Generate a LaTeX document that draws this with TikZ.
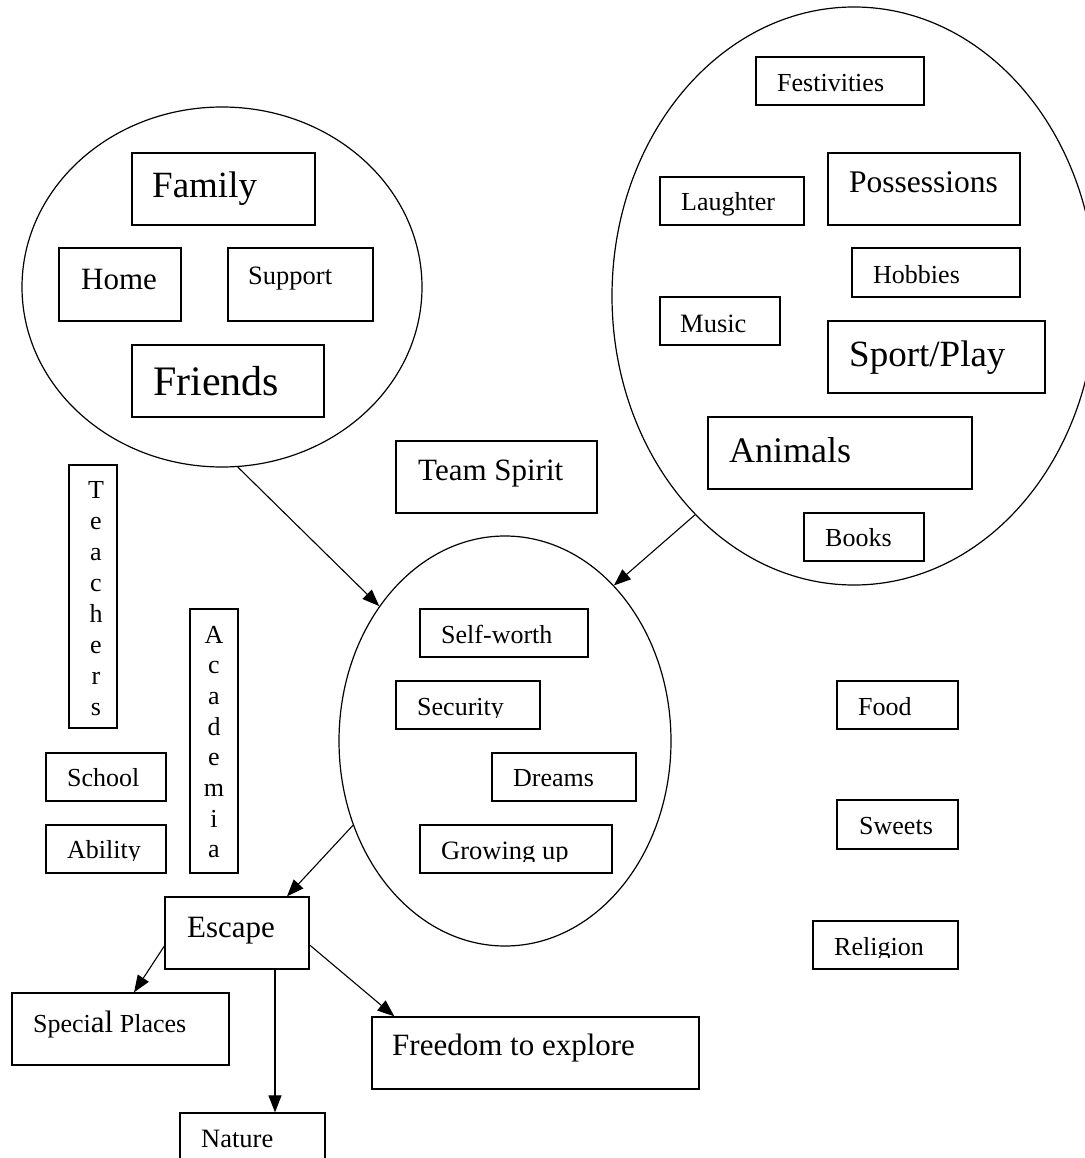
\documentclass[tikz,border=0pt]{standalone}
\usepackage{fontspec}
\setmainfont{Liberation Serif}
\usetikzlibrary{shapes.geometric,arrows.meta,calc}
\newcommand\fs[1]{\fontsize{#1}{#1}\selectfont}
\newcommand\mybox[5]{\node[box, minimum width={#4-#2}, minimum height={#5-#3}] (#1) at ({(#2+#4)/2},{(#3+#5)/2}) {};}
\tikzset{
  box/.style={draw, line width=1.3pt, rectangle, inner sep=0pt},
  oval/.style={draw, line width=1.2pt, ellipse, inner sep=0pt},
  lbl/.style={anchor=base west, inner sep=0pt},
  vl/.style={anchor=base, inner sep=0pt, font=\fs{26}},
  arr/.style={line width=1.1pt, -{Triangle[length=17pt,width=13pt]}},
}
\begin{document}
\begin{tikzpicture}[x=1pt,y=-1pt]
\useasboundingbox[fill=white] (0,0) rectangle (1084,1158);

% ellipses
\node[oval, minimum width=400, minimum height=360] (famell) at (222,287) {};
\node[oval, minimum width=484, minimum height=578] (funell) at (854,296) {};
\node[oval, minimum width=332, minimum height=410] (midell) at (505,741) {};

% family cluster
\mybox{family}{132}{153}{315}{225}
\node[lbl, font=\fs{37}] (family-t) at (152,198) {Family};
\mybox{home}{59}{248}{181}{321}
\node[lbl, font=\fs{31}] (home-t) at (81,289) {Home};
\mybox{support}{228}{248}{373}{321}
\node[lbl, font=\fs{26.5}] (support-t) at (248,284) {Support};
\mybox{friends}{132}{345}{324}{417}
\node[lbl, font=\fs{42}] (friends-t) at (153,395) {Friends};

% fun cluster
\mybox{fest}{756}{57}{924}{105}
\node[lbl, font=\fs{26}] (fest-t) at (777,92) {Festivities};
\mybox{laugh}{660}{177}{804}{225}
\node[lbl, font=\fs{26}] (laugh-t) at (681,211) {Laughter};
\mybox{poss}{828}{153}{1020}{225}
\node[lbl, font=\fs{31.5}] (poss-t) at (849,193) {Possessions};
\mybox{hobby}{852}{248}{1020}{297}
\node[lbl, font=\fs{26}] (hobby-t) at (873,283) {Hobbies};
\mybox{music}{660}{297}{780}{345}
\node[lbl, font=\fs{26.5}] (music-t) at (680,332) {Music};
\mybox{sport}{828}{321}{1045}{393}
\node[lbl, font=\fs{37}] (sport-t) at (849,366) {Sport/Play};
\mybox{animals}{708}{417}{972}{489}
\node[lbl, font=\fs{36}] (animals-t) at (729,462) {Animals};
\mybox{books}{804}{513}{924}{561}
\node[lbl, font=\fs{26}] (books-t) at (825,546) {Books};

% team spirit
\mybox{team}{396}{441}{597}{513}
\node[lbl, font=\fs{31}] (team-t) at (418,480) {Team Spirit};

% school cluster
\mybox{teach}{69}{465}{117}{728}
\foreach \l [count=\i from 0] in {T,e,a,c,h,e,r,s}
  \node[vl] (teach-\i) at (96,{498+31*\i}) {\l};
\mybox{acad}{190}{609}{238}{873}
\foreach \l [count=\i from 0] in {A,c,a,d,e,m,i,a}
  \node[vl] (acad-\i) at (214,{643+30.7*\i}) {\l};
\mybox{school}{46}{753}{166}{801}
\node[lbl, font=\fs{26}] (school-t) at (67,786) {School};
\mybox{ability}{46}{825}{166}{873}
\begin{scope}
  \clip (46,825) rectangle (166,860);
  \node[lbl, font=\fs{26}] (ability-t) at (67,858) {Ability};
\end{scope}

% middle cluster
\mybox{self}{420}{609}{588}{657}
\node[lbl, font=\fs{26}] (self-t) at (441,643) {Self-worth};
\mybox{secur}{396}{681}{540}{729}
\begin{scope}
  \clip (396,681) rectangle (540,717);
  \node[lbl, font=\fs{26}] (secur-t) at (417,715) {Security};
\end{scope}
\mybox{dreams}{492}{753}{636}{801}
\node[lbl, font=\fs{26}] (dreams-t) at (513,786) {Dreams};
\mybox{grow}{420}{825}{612}{873}
\begin{scope}
  \clip (420,825) rectangle (612,861);
  \node[lbl, font=\fs{26.5}] (grow-t) at (441,859) {Growing up};
\end{scope}

% right column
\mybox{food}{837}{681}{958}{729}
\node[lbl, font=\fs{26}] (food-t) at (858,715) {Food};
\mybox{sweets}{837}{800}{958}{849}
\node[lbl, font=\fs{26}] (sweets-t) at (859,834) {Sweets};
\mybox{relig}{813}{921}{958}{969}
\begin{scope}
  \clip (813,921) rectangle (958,957);
  \node[lbl, font=\fs{26}] (relig-t) at (834,955) {Religion};
\end{scope}

% escape cluster
\mybox{escape}{165}{897}{309}{969}
\node[lbl, font=\fs{31}] (escape-t) at (187,937) {Escape};
\mybox{special}{12}{993}{229}{1065}
\node[lbl, font=\fs{26}] (special-t) at (33,1032) {Speci{\fs{31}al} Places};
\mybox{freedom}{372}{1017}{699}{1089}
\node[lbl, font=\fs{31}] (freedom-t) at (392,1055) {Freedom to explore};
\mybox{nature}{180}{1113}{325}{1185}
\node[lbl, font=\fs{26.5}] (nature-t) at (201,1147) {Nature};

% connectors
\draw[arr] (famell.-85.2) -- (midell.133.2);
\draw[arr] (funell.234.3) -- (midell.55.6);
\draw[arr] (midell.209.6) -- ([xshift=50pt]escape.north);
\draw[arr] ([yshift=-13pt]escape.west) -- ([xshift=13.5pt]special.north);
\draw[arr] ([xshift=38pt]escape.south) -- ([xshift=38pt]escape.south |- nature.north);
\draw[arr] ([yshift=-12pt]escape.east) -- ([xshift=23pt]freedom.north west);
\end{tikzpicture}
\end{document}
